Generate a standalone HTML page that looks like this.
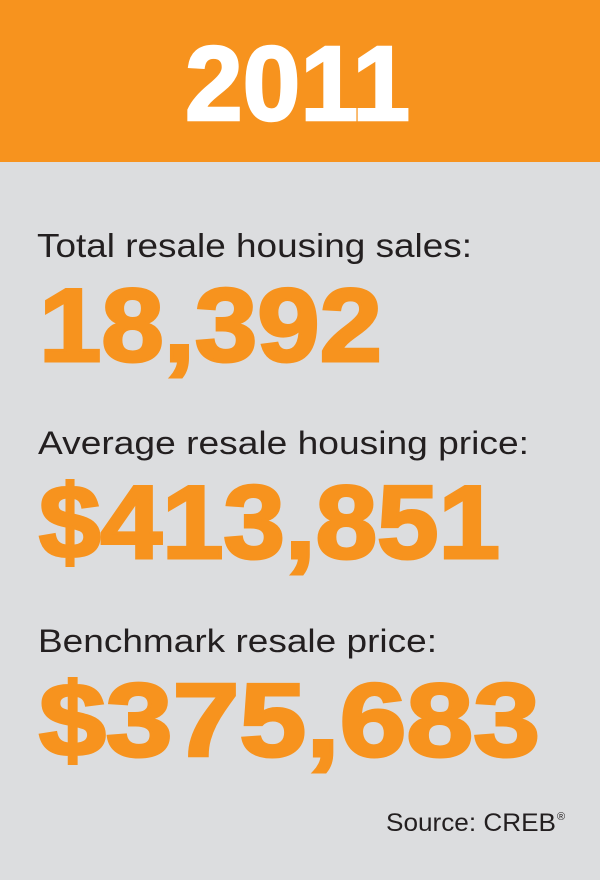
<!DOCTYPE html>
<html><head><meta charset="utf-8"><style>
html,body{margin:0;padding:0;width:600px;height:880px;overflow:hidden;background:#dcdddf}
svg{display:block}
</style></head><body>
<svg width="600" height="880" viewBox="0 0 600 880" xmlns="http://www.w3.org/2000/svg">
<rect x="0" y="0" width="600" height="880" fill="#dcdddf"/>
<rect x="0" y="0" width="600" height="162" fill="#f7931e"/>
<g font-family="Liberation Sans, sans-serif">
<text x="185" y="120" font-size="106" font-weight="bold" fill="#ffffff" stroke="#ffffff" stroke-width="2.5" textLength="225" lengthAdjust="spacingAndGlyphs">2011</text>
<text x="37" y="257" font-size="33" fill="#231f20" textLength="435" lengthAdjust="spacingAndGlyphs">Total resale housing sales:</text>
<g fill="#f7931e" stroke="#f7931e" stroke-width="3" font-weight="bold" font-size="104">
<text x="39" y="361" textLength="343" lengthAdjust="spacingAndGlyphs">18,392</text>
<text x="39" y="558" textLength="461" lengthAdjust="spacingAndGlyphs">$413,851</text>
<text x="39" y="756" textLength="501" lengthAdjust="spacingAndGlyphs">$375,683</text>
</g>
<text x="38" y="454" font-size="32" fill="#231f20" textLength="491" lengthAdjust="spacingAndGlyphs">Average resale housing price:</text>
<text x="38" y="652" font-size="32" fill="#231f20" textLength="399" lengthAdjust="spacingAndGlyphs">Benchmark resale price:</text>
<text x="386" y="831" font-size="25" fill="#231f20" textLength="170" lengthAdjust="spacingAndGlyphs">Source: CREB</text>
<text x="557" y="820" font-size="11" fill="#231f20">®</text>
</g>
</svg>
</body></html>
